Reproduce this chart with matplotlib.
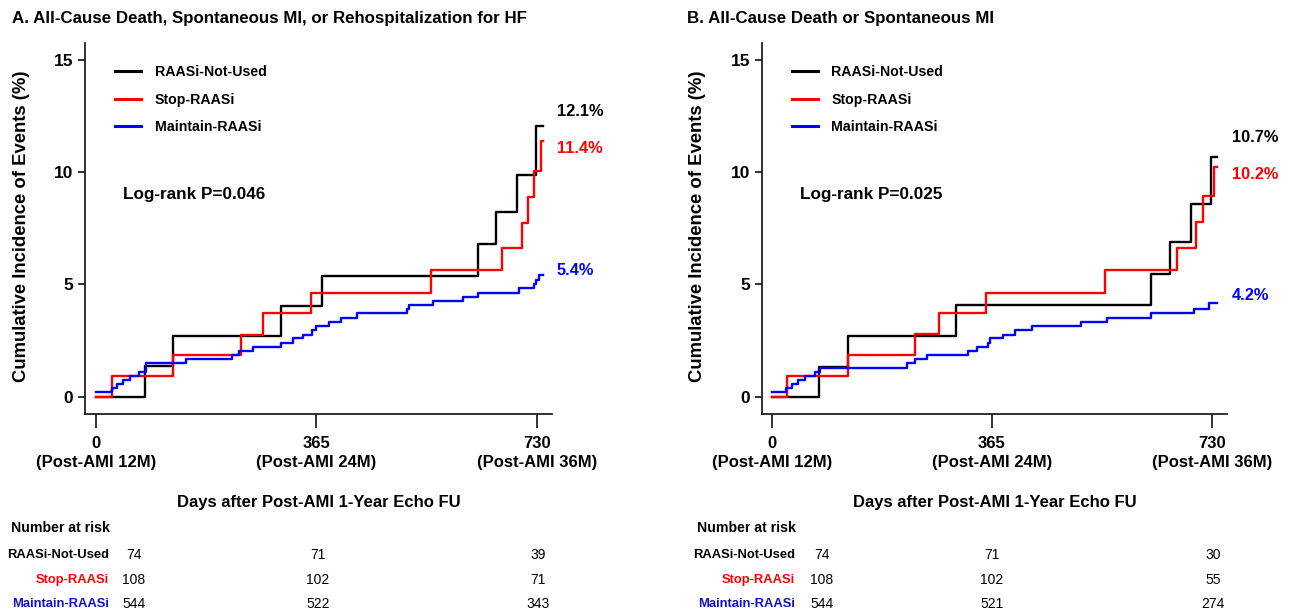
import numpy as np
import matplotlib
matplotlib.use("Agg")
import matplotlib.pyplot as plt

plt.rcParams['font.family'] = ['Liberation Sans', 'DejaVu Sans']

W, H = 1291, 614

groups = ["RAASi-Not-Used", "Stop-RAASi", "Maintain-RAASi"]
colors = ["black", "red", "blue"]
label_colors = ["black", "red", "#1010cc"]

# panel A: step times (days) and cumulative incidence (%)
a_not_t = [0, 81, 128, 307, 375, 632, 662, 697, 729, 740]
a_not_y = [0, 1.37, 2.70, 4.05, 5.37, 6.80, 8.24, 9.88, 12.05, 12.05]
a_stop_t = [0, 26, 128, 240, 277, 356, 555, 673, 705, 715, 725, 737, 740]
a_stop_y = [0, 0.92, 1.85, 2.77, 3.71, 4.63, 5.64, 6.64, 7.73, 8.89, 10.07, 11.4, 11.4]
a_keep_t = [0, 26, 34, 45, 56, 72, 82, 149, 226, 237, 260, 307, 327, 342, 358, 364,
            385, 405, 432, 515, 519, 558, 607, 632, 701, 725, 729, 733, 740]
a_keep_y = [0.19, 0.37, 0.55, 0.74, 0.92, 1.11, 1.48, 1.66, 1.85, 2.03, 2.23, 2.40, 2.60,
            2.77, 2.97, 3.15, 3.34, 3.52, 3.71, 3.89, 4.08, 4.26, 4.45, 4.63, 4.85, 5.0,
            5.19, 5.42, 5.42]

# panel B
b_not_t = [0, 79, 126, 306, 629, 661, 695, 728, 738]
b_not_y = [0, 1.34, 2.70, 4.07, 5.46, 6.91, 8.58, 10.68, 10.68]
b_stop_t = [0, 25, 126, 238, 277, 355, 553, 673, 704, 715, 734, 738]
b_stop_y = [0, 0.92, 1.86, 2.78, 3.71, 4.64, 5.64, 6.64, 7.76, 8.92, 10.22, 10.22]
b_keep_t = [0, 24, 33, 44, 55, 71, 80, 224, 238, 257, 326, 340, 358, 362, 383, 403,
            431, 513, 557, 629, 701, 726, 738]
b_keep_y = [0.19, 0.37, 0.55, 0.74, 0.92, 1.11, 1.29, 1.48, 1.66, 1.85, 2.03, 2.23, 2.40,
            2.60, 2.77, 2.97, 3.15, 3.34, 3.52, 3.71, 3.89, 4.19, 4.19]

a_final = ["12.1%", "11.4%", "5.4%"]
a_final_pos = [12.7, 11.05, 5.6]
b_final = ["10.7%", "10.2%", "4.2%"]
b_final_pos = [11.55, 9.9, 4.5]

titles = ["A. All-Cause Death, Spontaneous MI, or Rehospitalization for HF",
          "B. All-Cause Death or Spontaneous MI"]
pvals = ["Log-rank P=0.046", "Log-rank P=0.025"]

xticks = [0, 365, 730]
xticklabels = ["0\n(Post-AMI 12M)", "365\n(Post-AMI 24M)", "730\n(Post-AMI 36M)"]
yticks = [0, 5, 10, 15]

a_risk = [[74, 71, 39], [108, 102, 71], [544, 522, 343]]
b_risk = [[74, 71, 30], [108, 102, 55], [544, 521, 274]]

fig = plt.figure(figsize=(W / 100, H / 100), dpi=100)


def fx(px):
    return px / W


def fy(py):
    return 1 - py / H


panels = [
    dict(left=85, right=552, xlim=(-18.2, 755), curves=[(a_not_t, a_not_y), (a_stop_t, a_stop_y), (a_keep_t, a_keep_y)],
         final=a_final, fpos=a_final_pos, title_x=12, ylab_x=30, risk=a_risk,
         lab_right=109, num_x=11, cols=[134, 318, 538]),
    dict(left=762, right=1227, xlim=(-16.1, 755.3), curves=[(b_not_t, b_not_y), (b_stop_t, b_stop_y), (b_keep_t, b_keep_y)],
         final=b_final, fpos=b_final_pos, title_x=687, ylab_x=706, risk=b_risk,
         lab_right=795, num_x=697, cols=[822, 992, 1213]),
]

for k, p in enumerate(panels):
    top, bot = 43, 414
    ax = fig.add_axes([fx(p["left"]), fy(bot), (p["right"] - p["left"]) / W, (bot - top) / H])
    for (t, y), c, g in zip(p["curves"], colors, groups):
        ax.step(t, y, where="post", color=c, lw=1.7, label=g)
    ax.set_xlim(*p["xlim"])
    ax.set_ylim(-0.77, 15.75)
    ax.spines["top"].set_visible(False)
    ax.spines["right"].set_visible(False)
    for s in ["left", "bottom"]:
        ax.spines[s].set_linewidth(1.3)
        ax.spines[s].set_color("#222222")
    ax.set_xticks(xticks)
    ax.set_xticklabels(xticklabels, fontweight="bold", fontsize=12, linespacing=1.3)
    ax.set_yticks(yticks)
    ax.set_yticklabels([str(v) for v in yticks], fontweight="bold", fontsize=12.5)
    ax.tick_params(axis="x", length=10, width=1.3, pad=6, color="#222222")
    ax.tick_params(axis="y", length=5, width=1.3, pad=3.5, color="#222222")
    ax.set_ylabel("Cumulative Incidence of Events (%)", fontweight="bold", fontsize=13.3)
    ax.yaxis.set_label_coords((p["ylab_x"] - p["left"]) / (p["right"] - p["left"]), 0.507)
    ax.set_xlabel("Days after Post-AMI 1-Year Echo FU", fontweight="bold", fontsize=12, labelpad=18)

    leg = ax.legend(loc="upper left", bbox_to_anchor=(0.064, 0.94), frameon=False,
                    fontsize=10.2, handlelength=1.85, handletextpad=0.95, labelspacing=0.95,
                    borderaxespad=0, borderpad=0)
    for txt in leg.get_texts():
        txt.set_fontweight("bold")
    for ln in leg.get_lines():
        ln.set_linewidth(2.2)

    ax.text((123 - 85) / 467, (414 - 194) / 371, pvals[k], transform=ax.transAxes,
            fontsize=12.3, fontweight="bold", va="center", ha="left")

    for lab, yv, c in zip(p["final"], p["fpos"], colors):
        ax.text(763, yv, lab, color=c, fontsize=11.8, fontweight="bold", va="center", ha="left",
                clip_on=False)

    fig.text(fx(p["title_x"]), fy(18), titles[k], fontsize=12.2, fontweight="bold",
             va="center", ha="left")

    # number at risk table
    fig.text(fx(p["num_x"]), fy(528), "Number at risk", fontsize=10.2, fontweight="bold",
             va="center", ha="left")
    rows_y = [555, 580, 604]
    for g, lc, ry, vals in zip(groups, label_colors, rows_y, p["risk"]):
        fig.text(fx(p["lab_right"]), fy(ry), g, color=lc, fontsize=9.4, fontweight="bold",
                 va="center", ha="right")
        for cx, v in zip(p["cols"], vals):
            fig.text(fx(cx), fy(ry), str(v), fontsize=10, va="center", ha="center")

fig.savefig("out.png", dpi=100)
